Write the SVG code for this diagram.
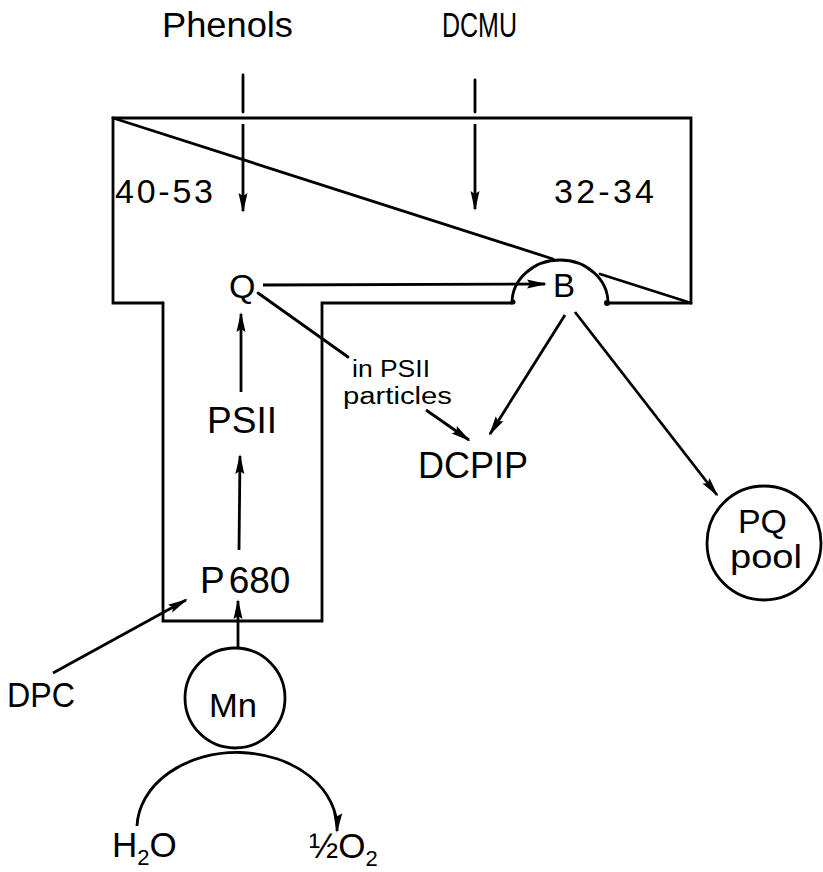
<svg xmlns="http://www.w3.org/2000/svg" width="823" height="872" viewBox="0 0 823 872">
<style>
  .ln { fill: none; stroke: #000; stroke-width: 2.8; stroke-linecap: round; stroke-linejoin: miter; }
  .arr { fill: none; stroke: #000; stroke-width: 2.8; marker-end: url(#ah); }
  .t { font-family: "Liberation Sans", Arial, sans-serif; fill: #000; }
</style>
<defs>
  <marker id="ah" markerUnits="userSpaceOnUse" markerWidth="20" markerHeight="12" viewBox="0 0 20 12" refX="18" refY="6" orient="auto">
    <path d="M0,1.5 L20,6 L0,10.5 L3,6 z" fill="#000"/>
  </marker>
</defs>
<rect width="823" height="872" fill="#fff"/>

<g id="membrane-complex">
  <path class="ln" d="M163,303 H113 V118 H691 V303 H608"/>
  <path class="ln" d="M512,303 H322 V621 H163 V303"/>
  <path class="ln" d="M113,118 L553,259"/>
  <path class="ln" d="M600,274 L691,303"/>
</g>

<g id="node-B">
  <path class="ln" d="M512,303 A48,43 0 0 1 608,303"/>
  <circle cx="513" cy="302" r="2.5" fill="#000"/>
  <circle cx="607" cy="303" r="3" fill="#000"/>
  <text class="t" x="553" y="297" font-size="33">B</text>
</g>

<g id="label-phenols"><text class="t" x="162" y="37" font-size="35" textLength="131" lengthAdjust="spacingAndGlyphs">Phenols</text></g>
<g id="label-dcmu"><text class="t" x="442" y="37" font-size="35" textLength="75" lengthAdjust="spacingAndGlyphs">DCMU</text></g>
<g id="label-40-53"><text class="t" x="115" y="203" font-size="34" textLength="98" lengthAdjust="spacing">40-53</text></g>
<g id="label-32-34"><text class="t" x="554" y="203" font-size="34" textLength="100" lengthAdjust="spacing">32-34</text></g>
<g id="node-Q"><text class="t" x="229" y="298" font-size="34">Q</text></g>
<g id="node-PSII"><text class="t" x="207" y="433" font-size="37" textLength="70" lengthAdjust="spacingAndGlyphs">PSII</text></g>
<g id="node-P680"><text class="t" x="200" y="593" font-size="37">P<tspan dx="4">680</tspan></text></g>
<g id="label-particles">
  <text class="t" x="352" y="377" font-size="23" textLength="78" lengthAdjust="spacingAndGlyphs">in PSII</text>
  <text class="t" x="343" y="404" font-size="23" textLength="109" lengthAdjust="spacingAndGlyphs">particles</text>
</g>
<g id="node-DCPIP"><text class="t" x="418" y="478" font-size="37" textLength="110" lengthAdjust="spacingAndGlyphs">DCPIP</text></g>
<g id="node-PQpool">
  <circle class="ln" cx="764" cy="543" r="57"/>
  <text class="t" x="738" y="533" font-size="34" textLength="49" lengthAdjust="spacingAndGlyphs">PQ</text>
  <text class="t" x="730" y="568" font-size="34" textLength="72" lengthAdjust="spacingAndGlyphs">pool</text>
</g>
<g id="node-Mn">
  <circle class="ln" cx="235" cy="698" r="50"/>
  <text class="t" x="209" y="717" font-size="34" textLength="48" lengthAdjust="spacingAndGlyphs">Mn</text>
</g>
<g id="node-DPC"><text class="t" x="7" y="707" font-size="35" textLength="68" lengthAdjust="spacingAndGlyphs">DPC</text></g>
<g id="node-H2O"><text class="t" x="112" y="857" font-size="35">H<tspan font-size="22" dy="8">2</tspan><tspan dy="-8">O</tspan></text></g>
<g id="node-O2"><text class="t" x="309" y="858" font-size="35">½O<tspan font-size="22" dy="8">2</tspan></text></g>

<g id="connectors">
  <line class="ln" x1="243" y1="75" x2="243" y2="112"/>
  <line class="arr" x1="243" y1="124" x2="243" y2="211"/>
  <line class="ln" x1="475" y1="80" x2="475" y2="112"/>
  <line class="arr" x1="475" y1="124" x2="475" y2="209"/>
  <line class="arr" x1="263" y1="285" x2="545" y2="284"/>
  <line class="ln" x1="258" y1="293" x2="348" y2="357"/>
  <line class="arr" x1="426" y1="410" x2="469" y2="440"/>
  <line class="arr" x1="565" y1="315" x2="490" y2="434"/>
  <line class="arr" x1="575" y1="312" x2="717" y2="495"/>
  <line class="arr" x1="241" y1="392" x2="241" y2="314"/>
  <line class="arr" x1="239" y1="550" x2="240" y2="456"/>
  <line class="arr" x1="238" y1="648" x2="238" y2="601"/>
  <line class="arr" x1="53" y1="673" x2="186" y2="600"/>
  <path class="arr" d="M137,826 A100,76 0 0 1 337,831"/>
</g>
</svg>
